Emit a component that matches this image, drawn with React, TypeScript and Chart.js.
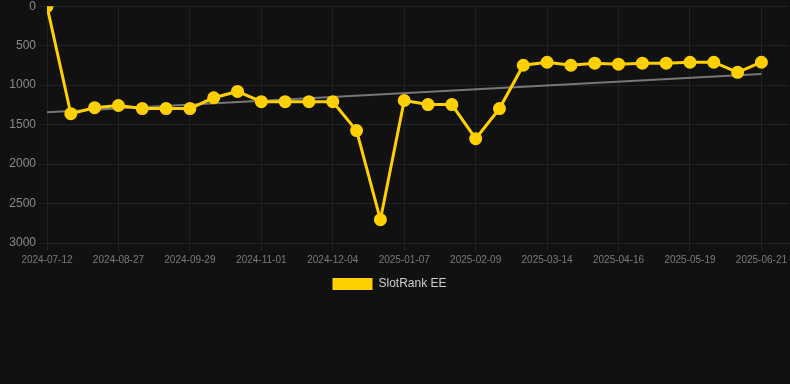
import React, { useEffect, useRef } from "react";
import { Chart, registerables } from "chart.js";

Chart.register(...registerables);

const dateLabels: string[] = [
  "2024-07-12", "2024-08-05", "2024-08-16", "2024-08-27", "2024-09-07", "2024-09-18",
  "2024-09-29", "2024-10-10", "2024-10-21", "2024-11-01", "2024-11-12", "2024-11-23",
  "2024-12-04", "2024-12-15", "2024-12-26", "2025-01-07", "2025-01-18", "2025-01-29",
  "2025-02-09", "2025-02-20", "2025-03-03", "2025-03-14", "2025-03-25", "2025-04-05",
  "2025-04-16", "2025-04-27", "2025-05-08", "2025-05-19", "2025-05-30", "2025-06-10",
  "2025-06-21",
];

const rankValues: number[] = [
  1, 1362, 1286, 1258, 1297, 1297, 1297, 1160, 1080, 1210, 1210, 1210,
  1210, 1576, 2705, 1195, 1246, 1246, 1678, 1297, 748, 710, 748, 722,
  735, 722, 722, 710, 710, 838, 710,
];

// Trend line end points (first and last category)
const trendValues: number[] = [1344, 860];

const seriesLabel = "SlotRank EE";
const yTicks = { min: 0, max: 3000, step: 500 };
const xAxisMax = 31.17;

const FONT = "'Liberation Sans', Arial, sans-serif";

export default function App() {
  const canvasRef = useRef<HTMLCanvasElement | null>(null);

  useEffect(() => {
    document.body.style.margin = "0";
    document.body.style.background = "#111111";
    const canvas = canvasRef.current;
    if (!canvas) return;

    const lastIdx = dateLabels.length - 1;
    const chart = new Chart(canvas, {
      type: "line",
      data: {
        datasets: [
          {
            label: seriesLabel,
            data: rankValues.map((v, i) => ({ x: i, y: v })),
            borderColor: "#FFD000",
            backgroundColor: "#FFD000",
            pointBackgroundColor: "#FFD000",
            pointBorderColor: "#FFD000",
            borderWidth: 3,
            pointRadius: 5,
            pointHoverRadius: 5,
            tension: 0,
            order: 1,
          },
          {
            label: "trend",
            data: [
              { x: 0, y: trendValues[0] },
              { x: lastIdx, y: trendValues[1] },
            ],
            borderColor: "#777777",
            backgroundColor: "#777777",
            borderWidth: 2,
            pointRadius: 0,
            tension: 0,
            order: 2,
          },
        ],
      },
      options: {
        animation: false,
        responsive: true,
        maintainAspectRatio: false,
        layout: { padding: 0, autoPadding: false },
        scales: {
          x: {
            type: "linear",
            min: 0,
            max: xAxisMax,
            afterBuildTicks: (scale: any) => {
              scale.ticks = dateLabels
                .map((_, i) => i)
                .filter((i) => i % 3 === 0)
                .map((i) => ({ value: i }));
            },
            ticks: {
              autoSkip: false,
              maxRotation: 0,
              color: "#7a7a7a",
              font: { size: 10, family: FONT },
              callback: (v: any) => dateLabels[v as number] ?? null,
            },
            grid: { color: "#222222", tickLength: 8 },
            border: { color: "#222222" },
          },
          y: {
            reverse: true,
            min: yTicks.min,
            max: yTicks.max,
            afterFit: (scale: any) => {
              scale.width = 58;
            },
            ticks: {
              stepSize: yTicks.step,
              color: "#8a8a8a",
              font: { size: 12, family: FONT },
              callback: (v: any) => String(v),
            },
            grid: { color: "#222222", tickLength: 8 },
            border: { color: "#222222" },
          },
        },
        plugins: {
          legend: {
            position: "bottom",
            labels: {
              color: "#cccccc",
              boxWidth: 40,
              boxHeight: 12,
              padding: 9,
              font: { size: 12, family: FONT },
              filter: (item: any) => item.text === seriesLabel,
              generateLabels: (c: any) =>
                Chart.defaults.plugins.legend.labels
                  .generateLabels(c)
                  .map((l: any) => ({ ...l, lineWidth: 0 })),
            },
          },
          tooltip: { enabled: false },
        },
      },
    });
    return () => chart.destroy();
  }, []);

  return (
    <div style={{ width: 790, height: 384, background: "#111111", overflow: "hidden", position: "relative" }}>
      <div style={{ position: "absolute", left: -11, top: -4, width: 801, height: 304 }}>
        <canvas ref={canvasRef} />
      </div>
    </div>
  );
}
